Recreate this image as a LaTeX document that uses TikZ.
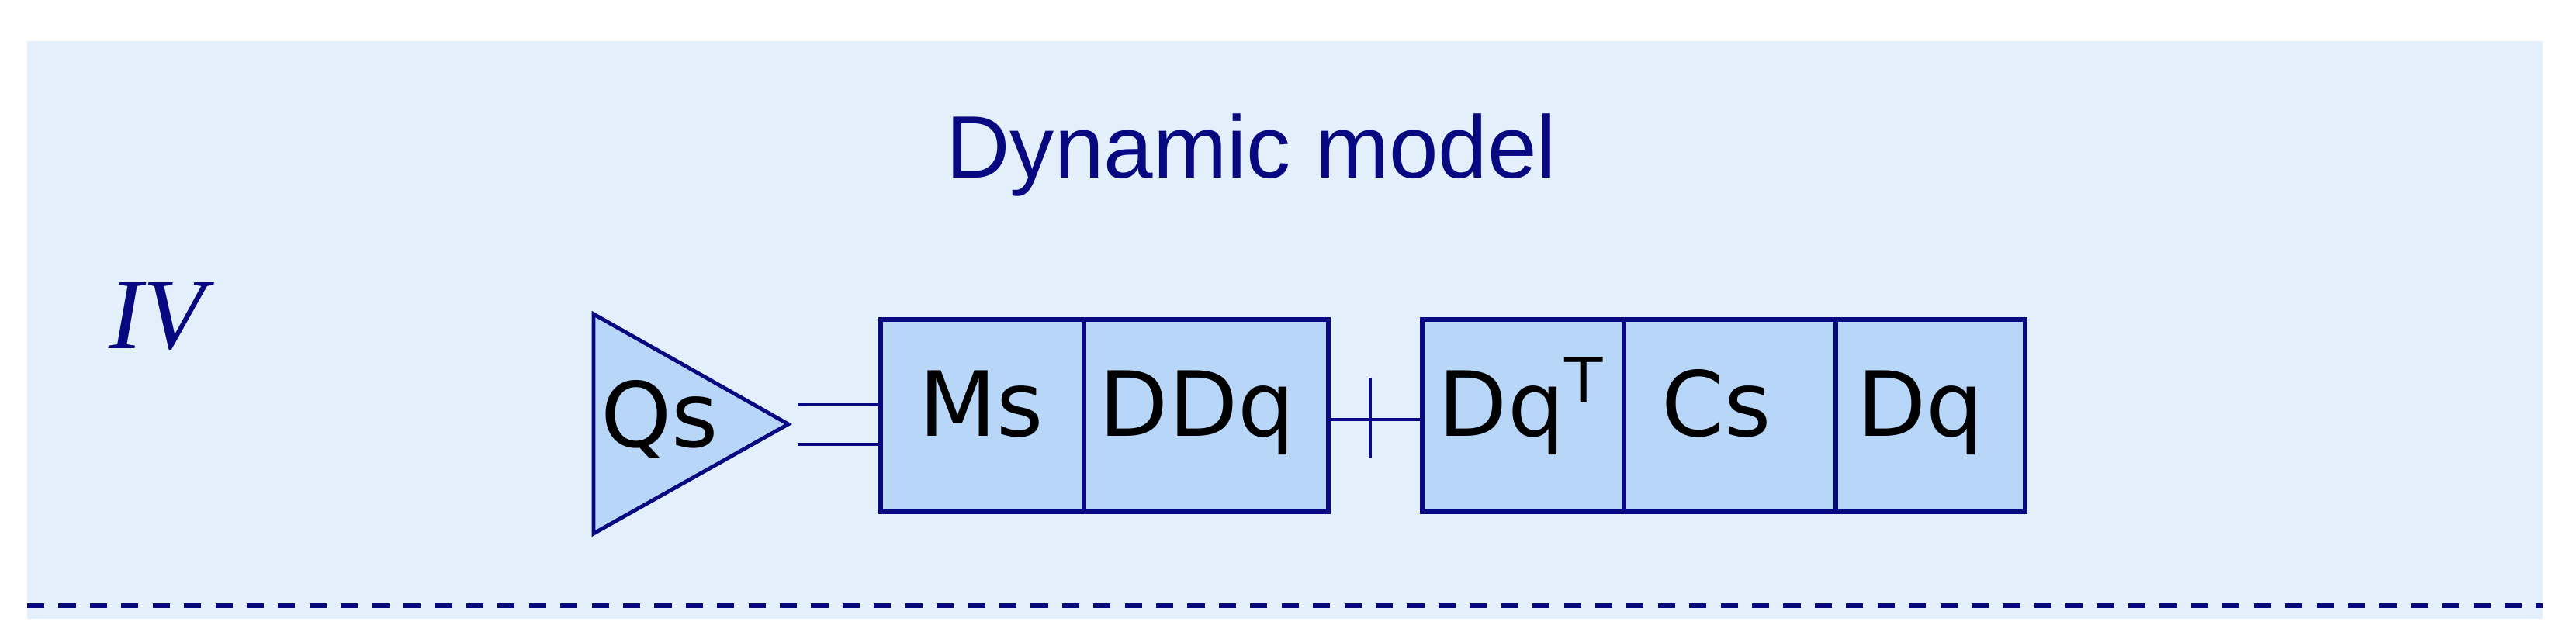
\documentclass[tikz,border=0pt]{standalone}
\usepackage{fontspec}
\setmainfont{DejaVu Sans}
\newfontfamily\titlefont{Liberation Sans}
\newfontfamily\romfont{Liberation Serif}
\definecolor{bgc}{RGB}{227,240,251}
\definecolor{boxfill}{RGB}{184,215,248}
\definecolor{navyc}{RGB}{8,8,128}
\tikzset{
  cell/.style={draw=navyc, fill=boxfill, line width=1.6pt, minimum height=2.48cm, inner sep=0pt, anchor=south west},
  lbl/.style={font=\fontsize{33}{33}\selectfont, text=black, inner sep=0pt, anchor=base},
  wire/.style={draw=navyc, line width=1.4pt},
  tickline/.style={draw=navyc, line width=1pt},
  sepline/.style={draw=navyc, line width=1.8pt, dash pattern=on 6.3pt off 5.2pt}
}
\begin{document}
\begin{tikzpicture}[x=1cm,y=1cm]
\useasboundingbox (0,0) rectangle (33.2,8.24);
\fill[bgc] (0.35,0.26) rectangle (32.77,7.71);
\node[font=\titlefont\fontsize{32.5}{32.5}\selectfont, text=navyc, anchor=base, inner sep=0pt] (title) at (16.13,5.94) {Dynamic model};
\node[font=\romfont\itshape\fontsize{37}{37}\selectfont, text=navyc, anchor=base west, inner sep=0pt] (num) at (1.40,3.74) {IV};
% triangle
\draw[wire, fill=boxfill] (7.65,4.19) coordinate (qa) -- (10.16,2.77) coordinate (qtip) -- (7.65,1.36) coordinate (qb) -- cycle;
\node[lbl, anchor=base west] (qs) at (7.74,2.47) {Qs};
% boxes
\node[cell, minimum width=2.62cm] (ms) at (11.32,1.61) {};
\node[cell, minimum width=3.15cm] (ddq) at (13.94,1.61) {};
\node[cell, minimum width=2.60cm] (dqt) at (18.30,1.61) {};
\node[cell, minimum width=2.73cm] (cs) at (20.90,1.61) {};
\node[cell, minimum width=2.44cm] (dq) at (23.63,1.61) {};
\node[lbl] (msl) at (12.65,2.61) {Ms};
\node[lbl] (ddql) at (15.43,2.61) {DDq};
\node[lbl] (dqtl) at (19.60,2.61) {Dq\raisebox{12.5pt}{\fontsize{23}{23}\selectfont T}};
\node[lbl] (csl) at (22.12,2.61) {Cs};
\node[lbl] (dql) at (24.75,2.61) {Dq};
% connectors
\coordinate (w1) at (10.28,3.02);
\coordinate (w2) at (10.28,2.51);
\draw[wire] (w1) -- (w1 -| ms.west);
\draw[wire] (w2) -- (w2 -| ms.west);
\coordinate (j) at (17.66,2.83);
\draw[wire] (ddq.east |- j) -- (dqt.west |- j);
\coordinate (t1) at (17.66,2.33);
\coordinate (t2) at (17.66,3.37);
\draw[tickline] (t1) -- (t2);
% dashed separator
\coordinate (dl) at (0.35,0.43);
\coordinate (dr) at (32.77,0.43);
\draw[sepline] (dl) -- (dr);
\end{tikzpicture}
\end{document}
